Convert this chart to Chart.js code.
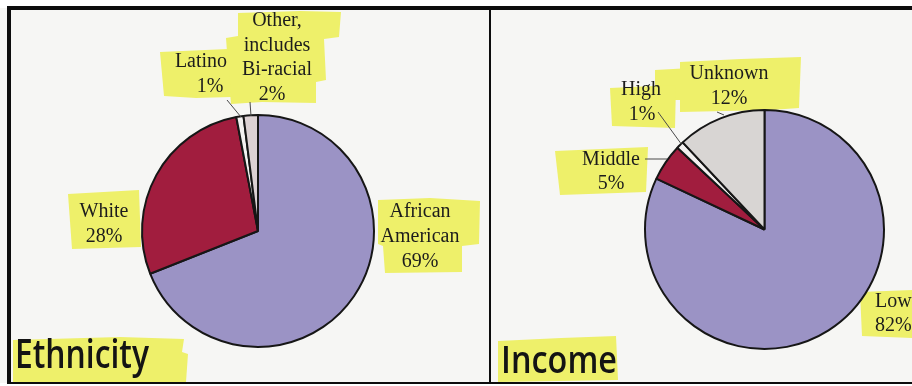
<!DOCTYPE html>
<html>
<head>
<meta charset="utf-8">
<script src="https://cdn.jsdelivr.net/npm/chart.js@4.4.1/dist/chart.umd.min.js"></script>
<style>
  html, body { margin: 0; padding: 0; background: #ffffff; }
  #frame { position: relative; width: 912px; height: 386px; overflow: hidden; }
  canvas { position: absolute; top: 0; }
  #ethnicity { left: 0; }
  #income { left: 491px; }
</style>
</head>
<body>
<div id="frame">
  <canvas id="ethnicity" width="491" height="386"></canvas>
  <canvas id="income" width="421" height="386"></canvas>
</div>
<script>
// ---- data ----
const ethnicityCategories = ['African\nAmerican', 'White', 'Latino', 'Other,\nincludes\nBi-racial'];
const ethnicityValues = [69, 28, 1, 2];
const incomeCategories = ['Low', 'Middle', 'High', 'Unknown'];
const incomeValues = [82, 5, 1, 12];
const ethnicityTitle = 'Ethnicity';
const incomeTitle = 'Income';

// ---- styling ----
const SLICE_COLORS_ETH = ['#9b93c5', '#a11d3e', '#f3f1f0', '#dcd1d3'];
const SLICE_COLORS_INC = ['#9b93c5', '#a11d3e', '#f3f1f0', '#d8d5d3'];
const HIGHLIGHT = '#eef06a';
const PAPER = '#f6f6f4';
const INK = '#1c1c1c';

// label placement, in canvas pixels
const ethnicityLayout = {
  labels: [
    { x: 420, y: 212, step: 25 },
    { x: 104, y: 212, step: 25 },
    { x: [201, 210], y: 62, step: 25 },
    { x: [277, 277, 277, 272], y: 21, step: 24.5 }
  ],
  leaders: [[[227, 100], [241, 117]], [[250, 102], [251, 116]]],
  highlights: [
    [[238, 13], [300, 11], [341, 12], [339, 37], [324, 39], [326, 80], [316, 82], [316, 103], [262, 102], [231, 104], [229, 80], [226, 38], [238, 36]],
    [[160, 52], [228, 49], [231, 97], [196, 98], [164, 96]],
    [[68, 194], [139, 190], [141, 247], [72, 249]],
    [[378, 200], [430, 198], [480, 201], [479, 244], [462, 246], [462, 272], [385, 273], [383, 246], [378, 244]],
    [[13, 340], [120, 337], [184, 339], [182, 352], [188, 354], [186, 382], [13, 382]]
  ],
  title: { text: ethnicityTitle, x: 15, y: 368, width: 134, size: 39 },
  frame: { left: true, divider: true }
};

const incomeLayout = {
  labels: [
    { x: 384, y: 302, step: 24, align: 'left' },
    { x: 120, y: 160, step: 24 },
    { x: [150, 151], y: 90, step: 25 },
    { x: 238, y: 74, step: 25 }
  ],
  leaders: [[[167, 112], [191, 145]], [[154, 159], [176, 159]], [[226, 112], [233, 115]]],
  highlights: [
    [[189, 62], [250, 59], [310, 57], [308, 108], [280, 110], [189, 112]],
    [[164, 70], [200, 68], [200, 100], [164, 100]],
    [[119, 88], [185, 85], [184, 128], [121, 126]],
    [[64, 151], [157, 147], [155, 192], [69, 195]],
    [[369, 292], [421, 290], [421, 338], [371, 336]],
    [[7, 341], [70, 338], [125, 336], [127, 380], [7, 382]]
  ],
  title: { text: incomeTitle, x: 10, y: 373, width: 116, size: 37 },
  frame: { left: false, divider: false }
};

function polygon(ctx, pts) {
  ctx.beginPath();
  pts.forEach((p, i) => (i ? ctx.lineTo(p[0], p[1]) : ctx.moveTo(p[0], p[1])));
  ctx.closePath();
}

// paper, highlighter marks, callout text and the frame around each panel
const panelDecor = {
  id: 'panelDecor',
  beforeDraw(chart, args, opts) {
    const { ctx, width, height } = chart;
    ctx.save();
    ctx.fillStyle = '#ffffff';
    ctx.fillRect(0, 0, width, height);
    ctx.fillStyle = PAPER;
    ctx.fillRect(0, 8, width, 375);
    ctx.fillStyle = HIGHLIGHT;
    opts.layout.highlights.forEach(h => { polygon(ctx, h); ctx.fill(); });
    ctx.restore();
  },
  afterDraw(chart, args, opts) {
    const { ctx, width } = chart;
    const L = opts.layout;
    const cats = chart.data.labels;
    const vals = chart.data.datasets[0].data;
    ctx.save();
    // leader lines
    ctx.strokeStyle = '#4a4a4a';
    ctx.lineWidth = 1;
    L.leaders.forEach(seg => {
      ctx.beginPath();
      ctx.moveTo(seg[0][0], seg[0][1]);
      ctx.lineTo(seg[1][0], seg[1][1]);
      ctx.stroke();
    });
    // callout text: category lines followed by the percentage
    ctx.fillStyle = INK;
    ctx.font = '20px "Liberation Serif", "Times New Roman", serif';
    ctx.textBaseline = 'middle';
    cats.forEach((c, i) => {
      const pos = L.labels[i];
      const lines = c.split('\n').concat([vals[i] + '%']);
      ctx.textAlign = pos.align || 'center';
      lines.forEach((t, j) => {
        const x = Array.isArray(pos.x) ? pos.x[Math.min(j, pos.x.length - 1)] : pos.x;
        ctx.fillText(t, x, pos.y + j * pos.step);
      });
    });
    // panel title, hand-lettered look
    const T = L.title;
    ctx.font = '600 ' + T.size + 'px "Open Sans", "DejaVu Sans", sans-serif';
    ctx.textAlign = 'left';
    ctx.textBaseline = 'alphabetic';
    const w = ctx.measureText(T.text).width;
    ctx.translate(T.x, T.y);
    ctx.scale(T.width / w, 1);
    ctx.fillStyle = '#141414';
    ctx.fillText(T.text, 0, 0);
    ctx.setTransform(1, 0, 0, 1, 0, 0);
    // frame
    ctx.fillStyle = '#0d0d0d';
    ctx.fillRect(L.frame.left ? 7 : 0, 6, width, 4);
    if (L.frame.left) ctx.fillRect(7, 6, 4, 378);
    ctx.fillRect(L.frame.left ? 7 : 0, 382, width, 2);
    if (L.frame.divider) ctx.fillRect(width - 2, 8, 2, 376);
    ctx.restore();
  }
};

function makePie(id, cats, vals, colors, layout, padding) {
  return new Chart(document.getElementById(id), {
    type: 'pie',
    data: {
      labels: cats,
      datasets: [{
        data: vals,
        backgroundColor: colors,
        borderColor: '#161616',
        borderWidth: 2
      }]
    },
    options: {
      responsive: false,
      animation: false,
      events: [],
      layout: { padding },
      plugins: {
        legend: { display: false },
        tooltip: { enabled: false },
        panelDecor: { layout }
      }
    },
    plugins: [panelDecor]
  });
}

makePie('ethnicity', ethnicityCategories, ethnicityValues, SLICE_COLORS_ETH, ethnicityLayout,
  { left: 141, right: 116, top: 114, bottom: 38 });
makePie('income', incomeCategories, incomeValues, SLICE_COLORS_INC, incomeLayout,
  { left: 153, right: 27, top: 109, bottom: 36 });
</script>
</body>
</html>
